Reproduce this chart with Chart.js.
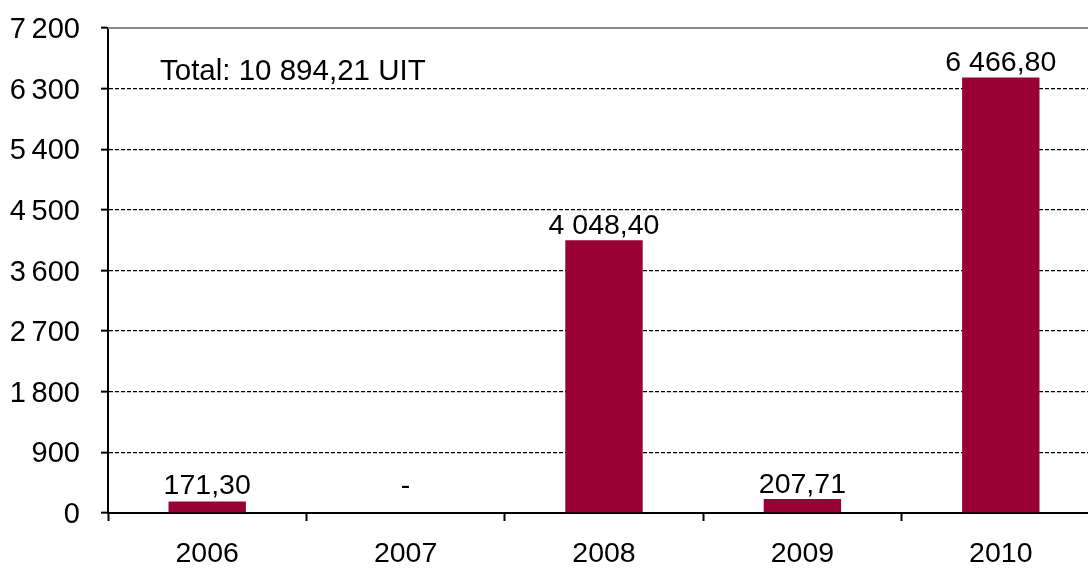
<!DOCTYPE html>
<html><head><meta charset="utf-8">
<script src="https://cdn.jsdelivr.net/npm/chart.js@4.4.1/dist/chart.umd.min.js"></script>
<style>
html,body{margin:0;padding:0;background:#fff;overflow:hidden;width:1088px;height:570px}
#wrap{position:relative;width:1100px;height:570px}
canvas{display:block}
</style>
</head><body><div id="wrap"><canvas id="c" width="1100" height="570"></canvas></div>
<script>
const categories = ['2006', '2007', '2008', '2009', '2010'];
const values = [171.30, 0, 4048.40, 207.71, 6466.80];
const yTicks = [0, 900, 1800, 2700, 3600, 4500, 5400, 6300, 7200];
const totalLabel = 'Total: 10 894,21 UIT';

const FONT = '"Liberation Sans", Arial, sans-serif';
const BAR_COLOR = '#990033';

function groupDigits(intStr, sep) {
  return intStr.replace(/\B(?=(\d{3})+(?!\d))/g, sep);
}
function fmtValue(v) {
  if (v === 0) return '-';
  const parts = v.toFixed(2).split('.');
  return groupDigits(parts[0], ' ') + ',' + parts[1];
}
function fmtTick(v) {
  return groupDigits(String(v), '\u2009');
}

const labelPlugin = {
  id: 'barLabels',
  afterDatasetsDraw(chart) {
    const ctx = chart.ctx;
    const meta = chart.getDatasetMeta(0);
    const base = chart.scales.y.getPixelForValue(0);
    ctx.save();
    ctx.font = '28.5px ' + FONT;
    ctx.fillStyle = '#000';
    ctx.textAlign = 'center';
    ctx.textBaseline = 'alphabetic';
    meta.data.forEach((bar, i) => {
      const y = Math.min(bar.y - 6, base - 19);
      ctx.fillText(fmtValue(values[i]), bar.x, y);
    });
    // total annotation
    ctx.font = '29.5px ' + FONT;
    ctx.textAlign = 'left';
    ctx.fillText(totalLabel, chart.chartArea.left + 52, chart.chartArea.top + 52);
    // solid gray top border line
    ctx.strokeStyle = '#888';
    ctx.lineWidth = 2;
    ctx.beginPath();
    ctx.moveTo(chart.chartArea.left, chart.chartArea.top);
    ctx.lineTo(chart.chartArea.right, chart.chartArea.top);
    ctx.stroke();
    ctx.restore();
  }
};

new Chart(document.getElementById('c'), {
  type: 'bar',
  data: {
    labels: categories,
    datasets: [{
      data: values,
      backgroundColor: BAR_COLOR,
      borderWidth: 0,
      categoryPercentage: 1,
      barPercentage: 0.39
    }]
  },
  options: {
    responsive: false,
    animation: false,
    events: [],
    layout: { padding: { top: 28, left: 0, right: 0, bottom: 0 } },
    plugins: { legend: { display: false }, tooltip: { enabled: false }, title: { display: false } },
    scales: {
      x: {
        offset: true,
        afterFit(s) { s.height = 57; s.paddingLeft = 0; s.paddingRight = 0; },
        grid: {
          display: true,
          offset: true,
          drawOnChartArea: false,
          drawTicks: true,
          tickLength: 8,
          tickWidth: 2,
          tickColor: '#000',
          color: '#000'
        },
        border: { display: true, color: '#000', width: 2 },
        ticks: {
          color: '#000',
          font: { family: FONT, size: 28.5 },
          padding: 16,
          maxRotation: 0
        }
      },
      y: {
        min: 0,
        max: 7200,
        afterFit(s) { s.width = 108; s.paddingTop = 0; s.paddingBottom = 0; },
        afterBuildTicks(s) { s.ticks = yTicks.map(v => ({ value: v })); },
        grid: {
          display: true,
          color: (c) => (c.tick && c.tick.value === 7200) ? 'rgba(0,0,0,0)' : '#000',
          lineWidth: 1.3,
          drawTicks: true,
          tickLength: 7,
          tickWidth: 2,
          tickColor: '#000'
        },
        border: { display: true, color: '#000', width: 2, dash: [4, 2] },
        ticks: {
          color: '#000',
          font: { family: FONT, size: 29 },
          padding: 21,
          labelOffset: 2,
          callback: (v) => fmtTick(v)
        }
      }
    }
  },
  plugins: [labelPlugin]
});
</script>
</body></html>
